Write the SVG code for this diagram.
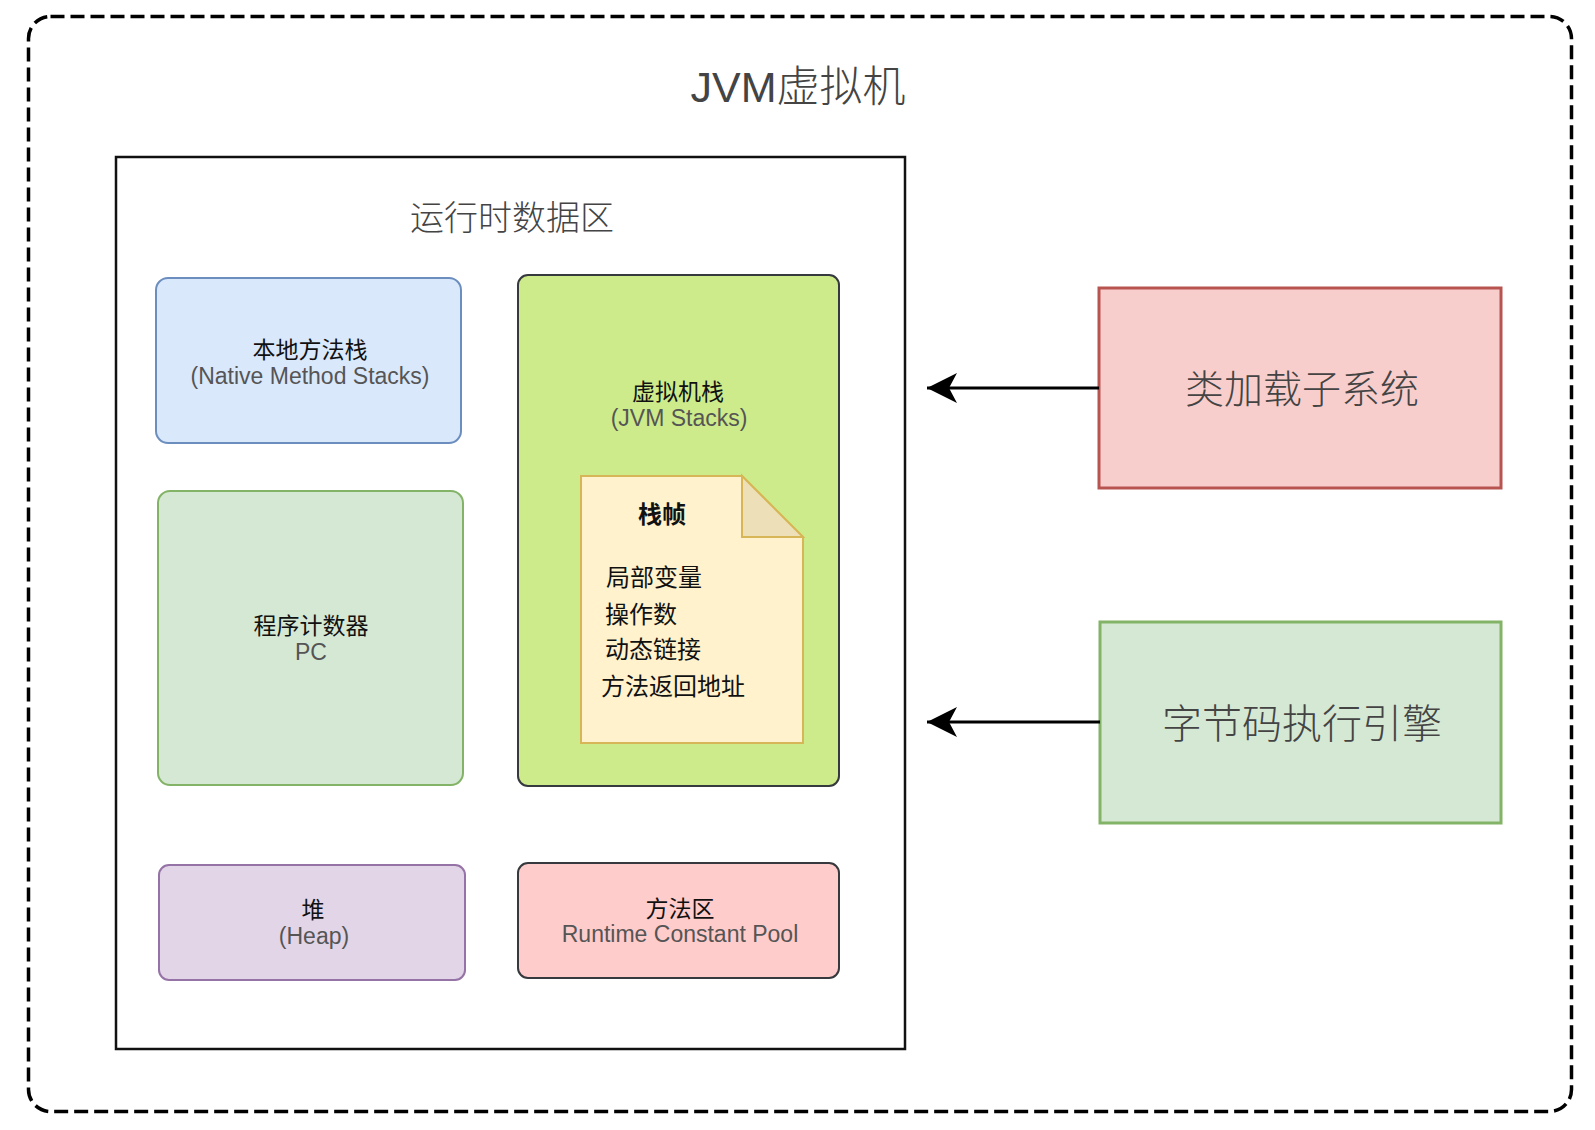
<svg xmlns="http://www.w3.org/2000/svg" width="1595" height="1130" viewBox="0 0 1595 1130">
<defs>
<style>
.t{font-family:"Liberation Sans","Noto Sans CJK SC",sans-serif;text-anchor:middle;}
.cn{fill:#111;font-size:23px;}
.en{fill:#555;font-size:23px;}
.big{fill:#444;font-weight:300;}
.nt{font-family:"Liberation Sans","Noto Sans CJK SC",sans-serif;fill:#111;font-size:24px;}
</style>
<marker id="arr" viewBox="0 0 32 32" refX="30" refY="16" markerWidth="32" markerHeight="32" markerUnits="userSpaceOnUse" orient="auto">
<path d="M30,16 L0,1 L8,16 L0,31 Z" fill="#000"/>
</marker>
</defs>
<rect width="1595" height="1130" fill="#fff"/>
<g id="jvm">
<rect x="28.5" y="16.5" width="1543" height="1095" rx="22" ry="22" fill="none" stroke="#000" stroke-width="3.5" stroke-dasharray="14 6"/>
<text class="t big" x="798" y="102" font-size="43" fill="#222">JVM虚拟机</text>
</g>
<g id="runtime-data-area">
<rect x="116" y="157" width="789" height="892" fill="#fff" stroke="#111" stroke-width="2.5"/>
<text class="t big" x="512" y="230" font-size="34" fill="#555">运行时数据区</text>
</g>
<g id="native-method-stacks">
<rect x="156" y="278" width="305" height="165" rx="12" fill="#dae8fc" stroke="#6c8ebf" stroke-width="2"/>
<text class="t cn" x="310" y="358">本地方法栈</text>
<text class="t en" x="310" y="384">(Native Method Stacks)</text>
</g>
<g id="pc">
<rect x="158" y="491" width="305" height="294" rx="12" fill="#d5e8d4" stroke="#82b366" stroke-width="2"/>
<text class="t cn" x="311" y="634">程序计数器</text>
<text class="t en" x="311" y="660">PC</text>
</g>
<g id="jvm-stacks">
<rect x="518" y="275" width="321" height="511" rx="10" fill="#cdeb8b" stroke="#36393d" stroke-width="2"/>
<text class="t cn" x="678" y="400">虚拟机栈</text>
<text class="t en" x="679" y="426">(JVM Stacks)</text>
</g>
<g id="stack-frame">
<path d="M581,476 L742,476 L803,537 L803,743 L581,743 Z" fill="#fff2cc" stroke="#d6b656" stroke-width="2"/>
<path d="M742,476 L742,537 L803,537 Z" fill="#ede0b8" stroke="#d6b656" stroke-width="2"/>
<text class="t" x="662" y="523" font-size="24" font-weight="bold" fill="#111">栈帧</text>
<text class="nt" x="606" y="586">局部变量</text>
<text class="nt" x="605" y="623">操作数</text>
<text class="nt" x="605" y="658">动态链接</text>
<text class="nt" x="601" y="695">方法返回地址</text>
</g>
<g id="heap">
<rect x="159" y="865" width="306" height="115" rx="10" fill="#e1d5e7" stroke="#9673a6" stroke-width="2"/>
<text class="t cn" x="313" y="918">堆</text>
<text class="t en" x="314" y="944">(Heap)</text>
</g>
<g id="method-area">
<rect x="518" y="863" width="321" height="115" rx="10" fill="#ffcccc" stroke="#36393d" stroke-width="2"/>
<text class="t cn" x="680" y="917">方法区</text>
<text class="t en" x="680" y="942" fill="#333">Runtime Constant Pool</text>
</g>
<g id="class-loader">
<rect x="1099" y="288" width="402" height="200" fill="#f8cecc" stroke="#b85450" stroke-width="3"/>
<text class="t big" x="1302" y="403" font-size="39">类加载子系统</text>
</g>
<g id="execution-engine">
<rect x="1100" y="622" width="401" height="201" fill="#d5e8d4" stroke="#82b366" stroke-width="3"/>
<text class="t big" x="1302" y="738" font-size="40">字节码执行引擎</text>
</g>
<g id="connectors" stroke="#000" stroke-width="3" fill="none">
<line x1="1099" y1="388" x2="927" y2="388" marker-end="url(#arr)"/>
<line x1="1100" y1="722" x2="927" y2="722" marker-end="url(#arr)"/>
</g>
</svg>
